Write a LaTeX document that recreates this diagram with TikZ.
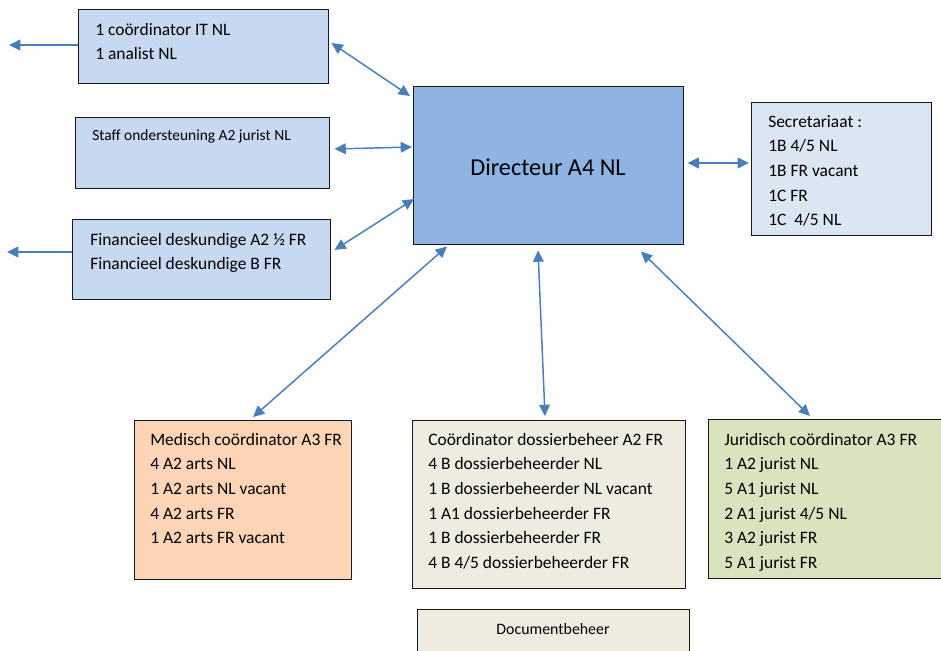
\documentclass[tikz,border=0pt]{standalone}
\usepackage{fontspec}
\setmainfont{Carlito}
\usetikzlibrary{arrows.meta,calc}
\definecolor{lblue}{HTML}{C6D9F1}
\definecolor{dblue}{HTML}{8EB4E3}
\definecolor{sblue}{HTML}{DCE6F2}
\definecolor{peach}{HTML}{FBD5B5}
\definecolor{beige}{HTML}{EEECE1}
\definecolor{lgreen}{HTML}{D7E4BD}
\definecolor{arrowc}{HTML}{4A7EBB}
\tikzset{
  box/.style={draw=black!90, line width=1.1pt, rectangle, inner sep=0pt, anchor=north west},
  txt/.style={anchor=base west, inner sep=0pt, font=\fontsize{13.1}{18.5}\selectfont},
  conn/.style={draw=arrowc, line width=1.1pt, -{Triangle[length=8.5pt,width=8pt]}},
  bconn/.style={draw=arrowc, line width=1.1pt, {Triangle[length=8.5pt,width=8pt]}-{Triangle[length=8.5pt,width=8pt]}}
}
\newcommand{\lines}[1]{\begin{tabular}[t]{@{}l@{}}#1\end{tabular}}
\begin{document}
\begin{tikzpicture}[x=0.75pt,y=-0.75pt]
\useasboundingbox (0,0) rectangle (941,650);
\clip (0,0) rectangle (941,650);
% boxes
\node[box, fill=lblue, minimum width=187.5pt, minimum height=55.5pt] (it) at (78,9) {};
\node[box, fill=lblue, minimum width=190.5pt, minimum height=53.25pt] (staff) at (75,117) {};
\node[box, fill=lblue, minimum width=193.5pt, minimum height=60pt] (fin) at (72,219) {};
\node[box, fill=dblue, minimum width=202.5pt, minimum height=118.5pt] (dir) at (413,86) {};
\node[box, fill=sblue, minimum width=135pt, minimum height=99.75pt] (sec) at (751,102) {};
\node[box, fill=peach, minimum width=162.75pt, minimum height=119.25pt] (med) at (134,420) {};
\node[box, fill=beige, minimum width=204.75pt, minimum height=126pt] (coord) at (412,420) {};
\node[box, fill=lgreen, minimum width=189pt, minimum height=119.25pt] (jur) at (708,419) {};
\node[box, fill=beige, minimum width=204pt, minimum height=46.5pt] (doc) at (417,609) {};
% texts
\node[txt] (itT) at (95,35) {\lines{1 coördinator IT NL\\ 1 analist NL}};
\node[txt, font=\fontsize{11.6}{14}\selectfont] (staffT) at (92,140) {Staff ondersteuning A2 jurist NL};
\node[txt] (finT) at (90,245) {\lines{Financieel deskundige A2 ½ FR\\ Financieel deskundige B FR}};
\node[font=\fontsize{18.2}{22}\selectfont, inner sep=0pt] (dirT) at (548,167) {Directeur A4 NL};
\node[txt] (secT) at (768,127) {\lines{Secretariaat :\\ 1B 4/5 NL\\ 1B FR vacant\\ 1C FR\\ 1C\ \ 4/5 NL}};
\node[txt] (medT) at (150,445) {\lines{Medisch coördinator A3 FR\\ 4 A2 arts NL\\ 1 A2 arts NL vacant\\ 4 A2 arts FR\\ 1 A2 arts FR vacant}};
\node[txt] (coordT) at (428,445) {\lines{Coördinator dossierbeheer A2 FR\\ 4 B dossierbeheerder NL\\ 1 B dossierbeheerder NL vacant\\ 1 A1 dossierbeheerder FR\\ 1 B dossierbeheerder FR\\ 4 B 4/5 dossierbeheerder FR}};
\node[txt] (jurT) at (724,445) {\lines{Juridisch coördinator A3 FR\\ 1 A2 jurist NL\\ 5 A1 jurist NL\\ 2 A1 jurist 4/5 NL\\ 3 A2 jurist FR\\ 5 A1 jurist FR}};
\node[font=\fontsize{11.9}{14}\selectfont, inner sep=0pt] (docT) at (553,629) {Documentbeheer};
% free ends
\coordinate (itL) at (9,45);
\coordinate (finL) at (7,252);
% connectors
\draw[conn] (it.west |- itL) -- (itL);
\draw[conn] (fin.west |- finL) -- (finL);
\draw[bconn] ($(it.north east)+(2,34)$) -- ($(dir.north west)+(-3,10)$);
\draw[bconn] ($(staff.north east)+(4,32)$) -- ($(dir.north west)+(-1,61)$);
\draw[bconn] ($(fin.north east)+(3,31)$) -- ($(dir.north west)+(1,113)$);
\draw[bconn] ($(dir.north east)+(3,77)$) -- ($(sec.north west)+(-2,61)$);
\draw[bconn] ($(dir.south west)+(34,1)$) -- ($(med.north west)+(119,-3)$);
\draw[bconn] ($(dir.south west)+(125,5)$) -- ($(coord.north west)+(133,-4)$);
\draw[bconn] ($(dir.south west)+(228,6)$) -- ($(jur.north west)+(102,-3)$);
\end{tikzpicture}
\end{document}
